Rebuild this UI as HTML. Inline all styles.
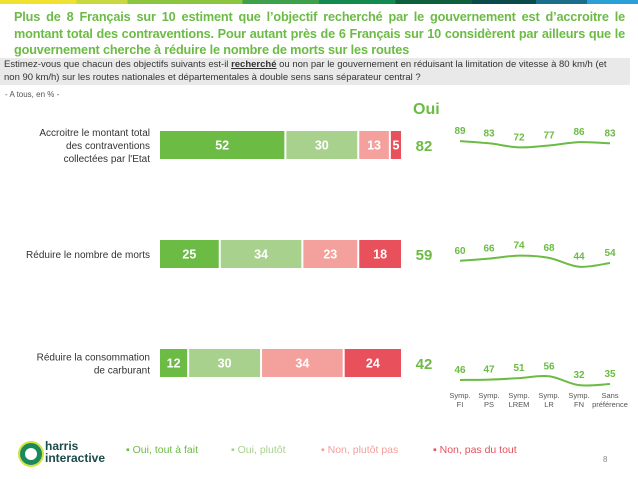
<!DOCTYPE html>
<html><head><meta charset="utf-8"><style>
body{margin:0;width:638px;height:479px;background:#fff;font-family:"Liberation Sans",sans-serif;position:relative;overflow:hidden}
.abs{position:absolute}
.tl{text-align:justify;text-align-last:justify;white-space:nowrap}
</style></head><body>
<div class="abs" style="left:0;top:0;width:638px;height:4px;background:linear-gradient(90deg,#f0e030 0 12%,#c8d840 12% 20%,#8cc640 20% 38%,#3ea04a 38% 50%,#138a50 50% 62%,#0e5f3c 62% 74%,#0a4a4a 74% 84%,#1a6e8c 84% 92%,#2aa0d8 92%)"></div>
<div class="abs" style="left:14px;top:9px;width:611px;font-size:12.7px;font-weight:bold;color:#6cbb45;line-height:16.5px;letter-spacing:-0.15px">
<div class="tl">Plus de 8 Français sur 10 estiment que l’objectif recherché par le gouvernement est d’accroitre le</div>
<div class="tl">montant total des contraventions. Pour autant près de 6 Français sur 10 considèrent par ailleurs que le</div>
<div>gouvernement cherche à réduire le nombre de morts sur les routes</div>
</div>
<div class="abs" style="left:0;top:58px;width:630px;height:27px;background:#e9e9e9;"></div>
<div class="abs" style="left:4px;top:59px;width:620px;font-size:9.5px;color:#333;line-height:12.5px;white-space:nowrap">Estimez-vous que chacun des objectifs suivants est-il <b><u>recherché</u></b> ou non par le gouvernement en réduisant la limitation de vitesse à 80 km/h (et<br>non 90 km/h) sur les routes nationales et départementales à double sens sans séparateur central ?</div>
<div class="abs" style="left:5px;top:90px;font-size:8px;color:#555">- A tous, en % -</div>
<div class="abs" style="left:413px;top:101px;font-size:16px;font-weight:bold;color:#6cbb45">Oui</div>
<svg class="abs" style="left:0;top:0" width="638" height="479" id="chart"></svg>
<div class="abs" style="left:126px;top:444px;font-size:10.5px;white-space:nowrap">
<span style="color:#6cbb45;position:absolute;left:0">▪ Oui, tout à fait</span>
<span style="color:#a9d18e;position:absolute;left:105px">▪ Oui, plutôt</span>
<span style="color:#f4a09c;position:absolute;left:195px">▪ Non, plutôt pas</span>
<span style="color:#e8505b;position:absolute;left:307px">▪ Non, pas du tout</span>
</div>
<div class="abs" style="left:20px;top:443px;width:22px;height:22px;border-radius:50%;border:5px solid #1a8a5a;box-sizing:border-box;box-shadow:0 0 0 2px #d4e040"></div>
<div class="abs" style="left:45px;top:440px;font-size:12px;font-weight:bold;color:#1a4a4a;line-height:12px">harris<br>interactive</div>
<div class="abs" style="left:603px;top:455px;font-size:8px;color:#888">8</div>
<script>
const categories=["Accroitre le montant total|des contraventions|collectées par l'Etat","Réduire le nombre de morts","Réduire la consommation|de carburant"];
const ouiToutAFait=[52,25,12];
const ouiPlutot=[30,34,30];
const nonPlutotPas=[13,23,34];
const nonPasDuTout=[5,18,24];
const ouiTotal=[82,59,42];
const groups=["Symp.|FI","Symp.|PS","Symp.|LREM","Symp.|LR","Symp.|FN","Sans|préférence"];
const sparkRow1=[89,83,72,77,86,83];
const sparkRow2=[60,66,74,68,44,54];
const sparkRow3=[46,47,51,56,32,35];
const svg=document.getElementById('chart');
const NS='http://www.w3.org/2000/svg';
function mk(t,a,txt){const e=document.createElementNS(NS,t);for(const k in a)e.setAttribute(k,a[k]);if(txt!==undefined)e.textContent=txt;svg.appendChild(e);return e;}
const x0=160,scale=2.43,rowY=[131,240,349],barH=28;
const xs=v=>x0+v*scale;
const series=[ouiToutAFait,ouiPlutot,nonPlutotPas,nonPasDuTout];
const cols=['#6cbb45','#a9d18e','#f4a09c','#e8505b'];
const names=['oui-tout-a-fait','oui-plutot','non-plutot-pas','non-pas-du-tout'];
rowY.forEach((y,i)=>{
  let acc=0;
  series.forEach((s,j)=>{
    const v=s[i];
    const r=mk('rect',{x:xs(acc),y:y,width:v*scale-2,height:barH,fill:cols[j]});
    
    
    const t=mk('text',{x:xs(acc)+(v*scale-2)/2,y:y+barH/2+4.5,'text-anchor':'middle','font-size':12.5,'font-weight':'bold',fill:'#fff'},v);
    
    
    acc+=v;
  });
  const lines=categories[i].split('|');
  lines.forEach((l,k)=>{
    const t=mk('text',{x:150,y:y+barH/2+4-(lines.length-1)*6.5+k*13,'text-anchor':'end','font-size':10,fill:'#333'},l);
    
    
  });
  const o=mk('text',{x:424,y:y+barH/2+6,'text-anchor':'middle','font-size':15,'font-weight':'bold',fill:'#6cbb45'},ouiTotal[i]);
  
  
});
const gx=[460,489,519,549,579,610];
const bases=[174,283,397];
const spark=[sparkRow1,sparkRow2,sparkRow3];
spark.forEach((arr,r)=>{
  const pts=arr.map((v,i)=>[gx[i],bases[r]-v*0.37]);
  let d='M'+pts[0][0]+','+pts[0][1];
  for(let i=0;i<pts.length-1;i++){
    const p0=pts[Math.max(0,i-1)],p1=pts[i],p2=pts[i+1],p3=pts[Math.min(pts.length-1,i+2)];
    const c1=[p1[0]+(p2[0]-p0[0])/6,p1[1]+(p2[1]-p0[1])/6];
    const c2=[p2[0]-(p3[0]-p1[0])/6,p2[1]-(p3[1]-p1[1])/6];
    d+=` C${c1[0]},${c1[1]} ${c2[0]},${c2[1]} ${p2[0]},${p2[1]}`;
  }
  const p=mk('path',{d:d,fill:'none',stroke:'#6cbb45','stroke-width':2});
  
  
  pts.forEach((pt,i)=>{
    const t=mk('text',{x:pt[0],y:pt[1]-7,'text-anchor':'middle','font-size':10,'font-weight':'bold',fill:'#6cbb45'},arr[i]);
    
    
  });
});
groups.forEach((g,i)=>{
  g.split('|').forEach((l,k)=>{
    const t=mk('text',{x:gx[i],y:398+k*9,'text-anchor':'middle','font-size':7.5,fill:'#555'},l);
    
    
  });
});
</script>
</body></html>
